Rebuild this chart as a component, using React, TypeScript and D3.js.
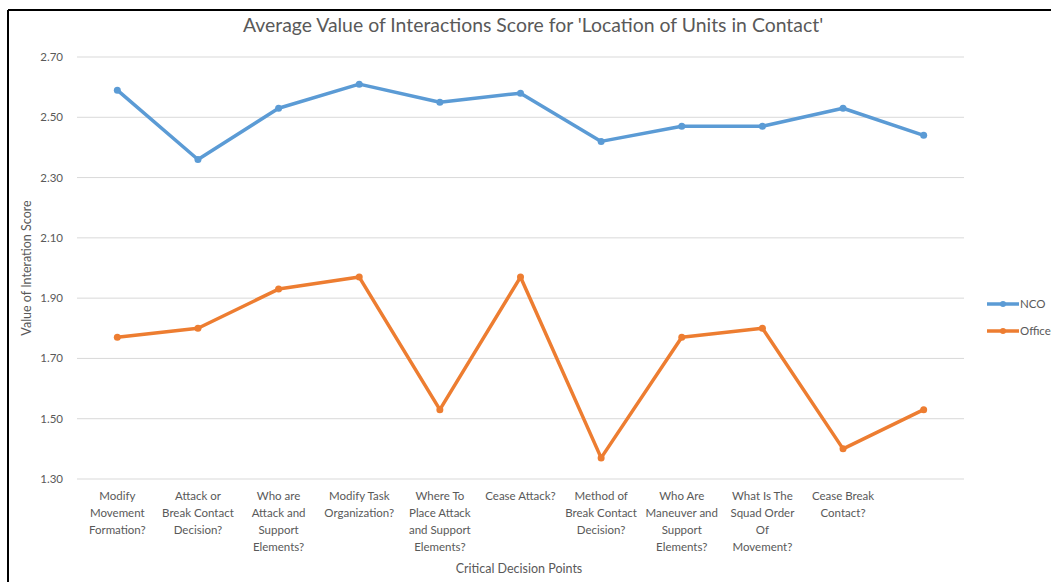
import React from "react";
import * as d3 from "d3";

const categories: string[][] = [
  ["Modify", "Movement", "Formation?"],
  ["Attack or", "Break Contact", "Decision?"],
  ["Who are", "Attack and", "Support", "Elements?"],
  ["Modify Task", "Organization?"],
  ["Where To", "Place Attack", "and Support", "Elements?"],
  ["Cease Attack?"],
  ["Method of", "Break Contact", "Decision?"],
  ["Who Are", "Maneuver and", "Support", "Elements?"],
  ["What Is The", "Squad Order", "Of", "Movement?"],
  ["Cease Break", "Contact?"],
  [],
];
const ncoValues = [2.59, 2.36, 2.53, 2.61, 2.55, 2.58, 2.42, 2.47, 2.47, 2.53, 2.44];
const officerValues = [1.77, 1.80, 1.93, 1.97, 1.53, 1.97, 1.37, 1.77, 1.80, 1.40, 1.53];
const yTicks = [1.3, 1.5, 1.7, 1.9, 2.1, 2.3, 2.5, 2.7];
const seriesNames = ["NCO", "Officer"];
const colors = ["#5B9BD5", "#ED7D31"];

export default function App() {
  const W = 1051, H = 582;
  const left = 77, right = 964, top = 57, bottom = 479;
  const x = d3.scaleBand<number>().domain(d3.range(categories.length)).range([left, right]);
  const y = d3.scaleLinear().domain([1.3, 2.7]).range([bottom, top]);
  const line = d3.line<number>().x((_, i) => x(i)! + x.bandwidth() / 2).y((d) => y(d));
  const font = "Lato, 'Open Sans', sans-serif";
  const series = [ncoValues, officerValues];
  return (
    <svg width={W} height={H} style={{ position: "absolute", left: 0, top: 0, background: "#fff" }} fontFamily={font}>
      <rect x={0} y={0} width={W} height={H} fill="#fff" />
      <line x1={8} y1={10} x2={W} y2={10} stroke="#000" strokeWidth={2} />
      <line x1={8} y1={10} x2={8} y2={H} stroke="#000" strokeWidth={2} />
      <text x={533} y={32} textAnchor="middle" fontSize={19.4} fill="#595959">
        Average Value of Interactions Score for 'Location of Units in Contact'
      </text>
      {yTicks.map((t) => (
        <g key={t}>
          <line x1={left} x2={right} y1={y(t)} y2={y(t)} stroke="#D9D9D9" strokeWidth={1} />
          <text x={63} y={y(t) + 4} textAnchor="end" fontSize={11.5} fill="#595959">
            {t.toFixed(2)}
          </text>
        </g>
      ))}
      <text transform={`translate(31,${(top + bottom) / 2}) rotate(-90)`} textAnchor="middle" fontSize={12.5} fill="#595959">
        Value of Interation Score
      </text>
      {categories.map((lines, i) => (
        <text key={i} x={x(i)! + x.bandwidth() / 2} y={500} textAnchor="middle" fontSize={11.5} fill="#595959">
          {lines.map((l, j) => (
            <tspan key={j} x={x(i)! + x.bandwidth() / 2} dy={j === 0 ? 0 : 17}>
              {l}
            </tspan>
          ))}
        </text>
      ))}
      <text x={519} y={573} textAnchor="middle" fontSize={12.5} fill="#595959">
        Critical Decision Points
      </text>
      {series.map((vals, s) => (
        <g key={s}>
          <path d={line(vals)!} fill="none" stroke={colors[s]} strokeWidth={3.5} strokeLinejoin="round" />
          {vals.map((v, i) => (
            <circle key={i} cx={x(i)! + x.bandwidth() / 2} cy={y(v)} r={3.5} fill={colors[s]} />
          ))}
        </g>
      ))}
      {seriesNames.map((n, s) => (
        <g key={n} transform={`translate(987,${304 + s * 27})`}>
          <line x1={0} x2={32} y1={0} y2={0} stroke={colors[s]} strokeWidth={3.5} />
          <circle cx={16} cy={0} r={3} fill={colors[s]} />
          <text x={33} y={4} fontSize={11.5} fill="#595959">
            {n}
          </text>
        </g>
      ))}
    </svg>
  );
}
